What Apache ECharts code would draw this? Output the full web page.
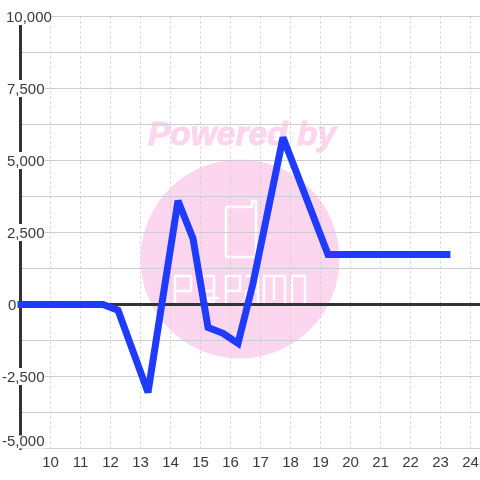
<!DOCTYPE html>
<html>

<head>
    <meta charset="UTF-8">
    <title></title>
    <style>
        html, body { margin: 0; padding: 0; background: #fff; }
        #container { width: 480px; height: 480px; }
    </style>
</head>

<body>
    <div id="container"></div>
    <script type="text/javascript" src="https://cdn.jsdelivr.net/npm/echarts@6/dist/echarts.min.js"></script>
    <script>
        var hours = [8.9, 11.75, 12.25, 13.25, 14.25, 14.75, 15.25, 15.75, 16.25, 16.75, 17.75, 19.25, 23.33];
        var values = [0, 0, -200, -3050, 3600, 2290, -800, -1000, -1350, 730, 5800, 1740, 1740];
        var points = hours.map(function (h, i) { return [h, values[i]]; });

        var fontName = '"Liberation Sans", Arial, sans-serif';
        var pink = '#fcd5ee';
        var labelColor = '#3a3a3a';

        // watermark logo, thin white outlines on the pink circle
        var logoLines = [
            [[226, 207], [252, 207], [252, 201], [256, 201], [256, 257], [226, 257], [226, 207]],
            [[175, 305], [175, 276], [191, 276], [191, 291], [175, 291]],
            [[214, 291], [200, 291], [200, 276], [214, 276], [214, 305], [206, 298], [219, 298]],
            [[226, 305], [226, 276], [240, 276], [240, 291], [226, 291]],
            [[246, 276], [258, 276], [258, 305], [246, 305], [246, 291], [258, 291]],
            [[264, 305], [264, 276], [285, 276], [285, 305]],
            [[274, 276], [274, 300]],
            [[292, 276], [305, 276], [305, 305], [292, 305], [292, 276]]
        ];

        function richLabel(left, top) {
            return { backgroundColor: '#fff', fontSize: 15, color: labelColor, padding: [top, 0, 0, left] };
        }

        var myChart = echarts.init(document.getElementById('container'));
        myChart.setOption({
            animation: false,
            backgroundColor: '#fff',
            grid: { left: 20.5, right: -0.5, top: 16.5, bottom: 31.5, outerBoundsMode: 'none' },
            graphic: [
                { type: 'circle', z: -10, shape: { cx: 240, cy: 259, r: 99.5 }, style: { fill: pink } },
                { type: 'text', z: -10, x: 148, y: 119, style: { text: 'Powered by', fill: pink, stroke: pink, lineWidth: 1, font: 'italic bold 33.5px ' + fontName } }
            ].concat(logoLines.map(function (pts) {
                return { type: 'polyline', z: -9, shape: { points: pts }, style: { fill: 'none', stroke: '#fff', lineWidth: 2.5, lineJoin: 'round' } };
            })),
            xAxis: [
                {
                    type: 'value', min: 9, max: 24.333, interval: 1,
                    position: 'bottom',
                    axisLine: { show: false, onZero: false },
                    axisTick: { show: false },
                    axisLabel: {
                        color: labelColor, fontSize: 15, fontFamily: fontName, margin: 7,
                        formatter: function (v) { return (v >= 10 && v === Math.round(v)) ? String(v) : ''; }
                    },
                    splitLine: { show: true, lineStyle: { color: '#ccc', type: [2, 3], width: 1 } }
                },
                {
                    type: 'value', min: 9, max: 24.333, interval: 1,
                    position: 'bottom',
                    axisLine: { show: true, onZero: true, lineStyle: { color: '#333', width: 3 } },
                    axisTick: { show: false },
                    axisLabel: { show: false },
                    splitLine: { show: false }
                }
            ],
            yAxis: {
                type: 'value', min: -5000, max: 10000, interval: 2500,
                axisLine: { show: true, onZero: false, lineStyle: { color: '#333', width: 3 } },
                axisTick: { show: false },
                axisLabel: {
                    color: labelColor, fontSize: 15, fontFamily: fontName, margin: 18.5, align: 'left',
                    verticalAlignMinLabel: 'bottom',
                    formatter: function (v) {
                        var s = Math.abs(v).toLocaleString('en-US');
                        if (v === -5000) return '{b|-' + s + '}';
                        if (v < 0) return '{n|-' + s + '}';
                        if (v === 0) return '{z|' + s + '}';
                        if (v === 10000) return '{t|' + s + '}';
                        return '{p|' + s + '}';
                    },
                    rich: {
                        b: { backgroundColor: '#fff', fontSize: 15, color: labelColor, lineHeight: 13, height: 13 },
                        n: richLabel(0, 2), z: richLabel(6, 2), t: richLabel(4, 2), p: richLabel(5, 2)
                    }
                },
                splitLine: { show: true, lineStyle: { color: '#ccc', width: 1 } },
                minorTick: { show: false, splitNumber: 2 },
                minorSplitLine: { show: true, lineStyle: { color: '#ccc', width: 1 } }
            },
            series: [
                {
                    type: 'line',
                    xAxisIndex: 0,
                    data: points,
                    clip: false,
                    showSymbol: false,
                    smooth: false,
                    lineStyle: { color: '#1f3bff', width: 7, cap: 'butt', join: 'miter', miterLimit: 3 }
                }
            ]
        });
    </script>
</body>

</html>
